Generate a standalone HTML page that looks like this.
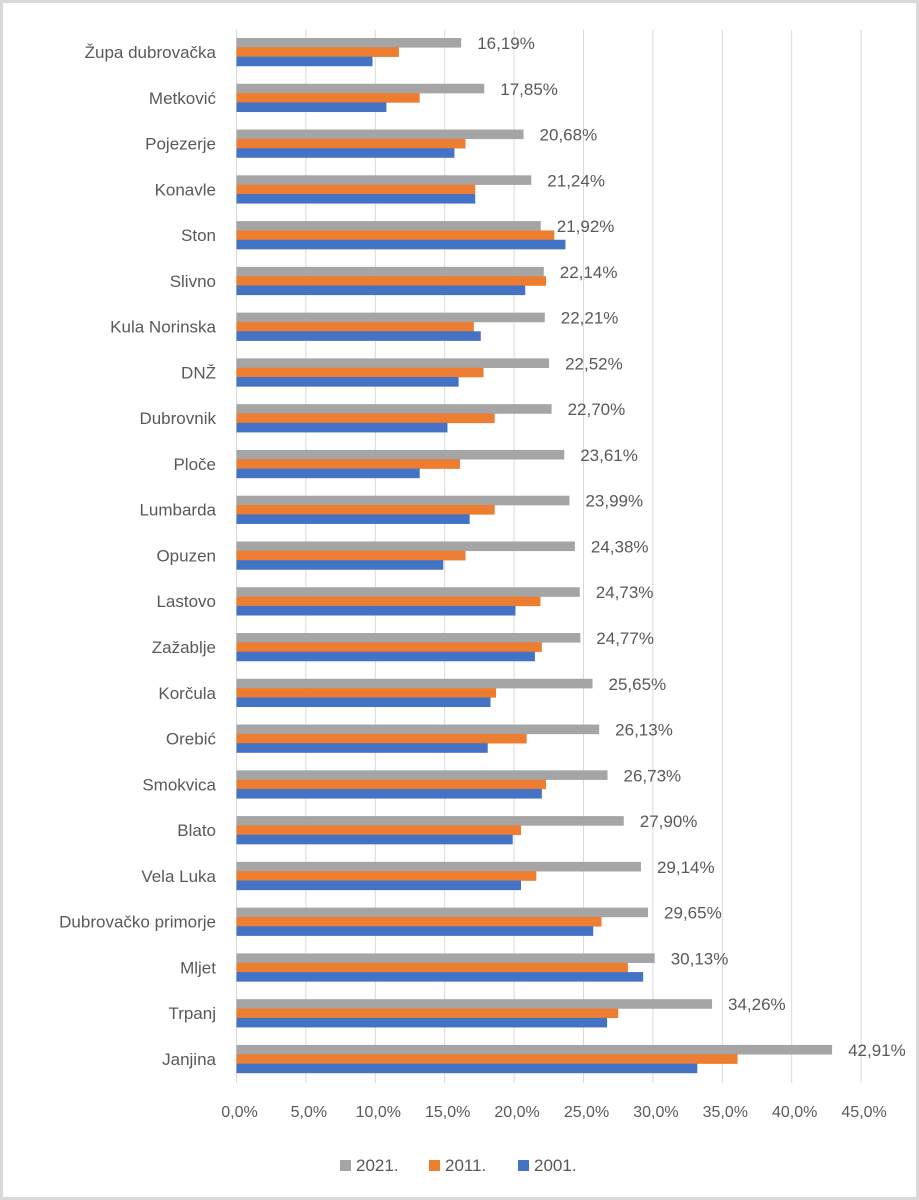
<!DOCTYPE html>
<html><head><meta charset="utf-8"><style>
html,body{margin:0;padding:0;background:#fff;}
svg{display:block;font-family:"Liberation Sans",sans-serif;}
</style></head><body>
<svg width="919" height="1200" viewBox="0 0 919 1200" xmlns="http://www.w3.org/2000/svg">
<rect x="1.5" y="1.5" width="916" height="1197" fill="#fff" stroke="#d9d9d9" stroke-width="3"/>
<g id="grid" stroke="#d9d9d9" stroke-width="1"></g>
<g id="bars"></g>
<g id="labels" fill="#595959" font-size="17"></g>
<g id="ticks" fill="#595959" font-size="16" text-anchor="middle"></g>
<g fill="#595959" font-size="17">
<rect x="340" y="1160" width="11" height="11" fill="#a5a5a5"/><text x="356" y="1171">2021.</text>
<rect x="429" y="1160" width="11" height="11" fill="#ed7d31"/><text x="445" y="1171">2011.</text>
<rect x="518" y="1160" width="11" height="11" fill="#4472c4"/><text x="534" y="1171">2001.</text>
</g>
<script>
var d=[["Župa dubrovačka",16.19,11.7,9.8],["Metković",17.85,13.2,10.8],["Pojezerje",20.68,16.5,15.7],["Konavle",21.24,17.2,17.2],["Ston",21.92,22.9,23.7],["Slivno",22.14,22.3,20.8],["Kula Norinska",22.21,17.1,17.6],["DNŽ",22.52,17.8,16.0],["Dubrovnik",22.70,18.6,15.2],["Ploče",23.61,16.1,13.2],["Lumbarda",23.99,18.6,16.8],["Opuzen",24.38,16.5,14.9],["Lastovo",24.73,21.9,20.1],["Zažablje",24.77,22.0,21.5],["Korčula",25.65,18.7,18.3],["Orebić",26.13,20.9,18.1],["Smokvica",26.73,22.3,22.0],["Blato",27.90,20.5,19.9],["Vela Luka",29.14,21.6,20.5],["Dubrovačko primorje",29.65,26.3,25.7],["Mljet",30.13,28.2,29.3],["Trpanj",34.26,27.5,26.7],["Janjina",42.91,36.1,33.2]];
var NS="http://www.w3.org/2000/svg",x0=236.5,s=13.88;
function el(p,t,a,txt){var e=document.createElementNS(NS,t);for(var k in a)e.setAttribute(k,a[k]);if(txt)e.textContent=txt;document.getElementById(p).appendChild(e);}
for(var i=0;i<=9;i++){var x=x0+i*5*s;el("grid","line",{x1:x,x2:x,y1:30,y2:1083});el("ticks","text",{x:x+3,y:1117},(i*5).toFixed(1).replace(".",",")+"%");}
var c=["#a5a5a5","#ed7d31","#4472c4"];
d.forEach(function(r,i){var cy=52+i*45.77,top=cy-14;
for(var j=0;j<3;j++)el("bars","rect",{x:x0,y:top+j*9.33,width:r[j+1]*s,height:9.6,fill:c[j]});
el("labels","text",{x:216,y:cy+6,"text-anchor":"end"},r[0]);
el("labels","text",{x:x0+r[1]*s+16,y:top+11},r[1].toFixed(2).replace(".",",")+"%");});
</script>
</svg>
</body></html>
